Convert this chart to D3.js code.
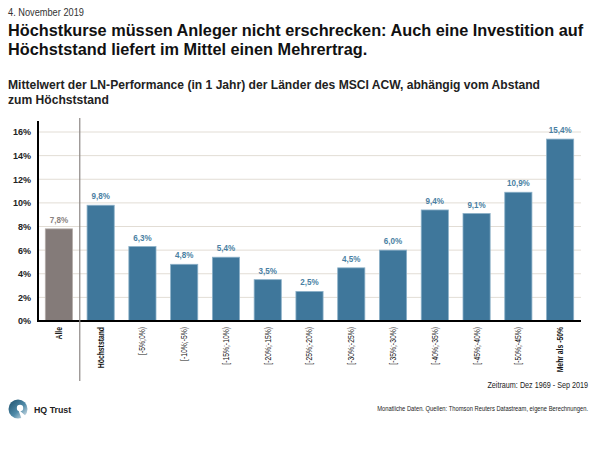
<!DOCTYPE html>
<html><head><meta charset="utf-8">
<script src="https://cdn.jsdelivr.net/npm/d3@7"></script>
<style>
body{margin:0;background:#fff;}
svg{display:block;font-family:"Liberation Sans",Arial,sans-serif;}
</style></head>
<body>
<svg id="c" width="600" height="450"></svg>
<script>
const categories = ["Alle","Höchststand","[-5%;0%)","[-10%;-5%)","[-15%;-10%)","[-20%;-15%)","[-25%;-20%)","[-30%;-25%)","[-35%;-30%)","[-40%;-35%)","[-45%;-40%)","[-50%;-45%)","Mehr als -50%"];
const values = [7.8, 9.8, 6.3, 4.8, 5.4, 3.5, 2.5, 4.5, 6.0, 9.4, 9.1, 10.9, 15.4];
const yTicks = [0,2,4,6,8,10,12,14,16];
const dateText = "4. November 2019";
const titleLines = ["Höchstkurse müssen Anleger nicht erschrecken: Auch eine Investition auf","Höchststand liefert im Mittel einen Mehrertrag."];
const subtitleLines = ["Mittelwert der LN-Performance (in 1 Jahr) der Länder des MSCI ACW, abhängig vom Abstand","zum Höchststand"];
const periodNote = "Zeitraum: Dez 1969 - Sep 2019";
const sourceNote = "Monatliche Daten. Quellen: Thomson Reuters Datastream, eigene Berechnungen.";

(function(){
const svg = d3.select("#c");
const pL = 38, pR = 581, pT = 121, pB = 321;

svg.append("text").attr("transform","translate(8,16) scale(0.88,1)").attr("font-size",10.5).attr("fill","#333").text(dateText);
svg.selectAll(".title").data(titleLines).enter().append("text")
  .attr("x",8).attr("y",(d,i)=>36+i*19).attr("font-size",16.3).attr("font-weight","bold").attr("fill","#111").text(d=>d);
svg.selectAll(".sub").data(subtitleLines).enter().append("text")
  .attr("x",8).attr("y",(d,i)=>89+i*15).attr("font-size",12.1).attr("font-weight","bold").attr("fill","#222").text(d=>d);

const x = d3.scaleBand().domain(categories).range([pL, pR]).paddingInner(0.35).paddingOuter(0.175);
const y = d3.scaleLinear().domain([0,16]).range([pB, pB - 189]);

svg.append("g").selectAll("line").data(yTicks.filter(t=>t>0)).enter().append("line")
  .attr("x1",pL).attr("x2",pR).attr("y1",d=>y(d)).attr("y2",d=>y(d))
  .attr("stroke","#e2ddd5").attr("stroke-width",1);

const yAxis = d3.axisLeft(y).tickValues(yTicks).tickFormat(d=>d+"%").tickSize(0).tickPadding(7);
const gy = svg.append("g").attr("transform",`translate(${pL},0)`).call(yAxis);
gy.select(".domain").remove();
gy.selectAll(".tick text").attr("font-size",9).attr("font-weight","bold").attr("fill","#222")
  .attr("font-family","'Liberation Sans',Arial,sans-serif");
svg.append("line").attr("x1",pL).attr("x2",pL).attr("y1",pT).attr("y2",pB+1).attr("stroke","#000").attr("stroke-width",2);

svg.append("g").selectAll("rect").data(values).enter().append("rect")
  .attr("x",(d,i)=>x(categories[i])).attr("width",x.bandwidth())
  .attr("y",d=>y(d)).attr("height",d=>y(0)-y(d))
  .attr("fill",(d,i)=>i===0?"#847b79":"#3f779b")
  .attr("stroke",(d,i)=>i===0?"#b3aca9":"#8bb0c8").attr("stroke-width",0.8);

svg.append("g").selectAll("text").data(values).enter().append("text")
  .attr("transform",(d,i)=>`translate(${x(categories[i])+x.bandwidth()/2},${y(d)-6}) scale(0.85,1)`)
  .attr("text-anchor","middle").attr("font-size",9.5).attr("font-weight","bold")
  .attr("fill",(d,i)=>i===0?"#8a8280":"#4a7fa3")
  .text(d=>d.toFixed(1).replace(".",",")+"%");

const xAxis = d3.axisBottom(x).tickSize(0).tickPadding(0);
const gx = svg.append("g").attr("transform",`translate(0,${pB})`).call(xAxis);
gx.select(".domain").remove();
gx.selectAll(".tick text")
  .attr("transform","translate(0,6) rotate(-90) scale(0.8,1)")
  .attr("x",0).attr("y",0).attr("dy","0.35em")
  .attr("text-anchor","end").attr("font-size",8.5)
  .attr("font-family","'Liberation Sans',Arial,sans-serif")
  .attr("font-weight",(d,i)=>(i<2||i===12)?"bold":"normal")
  .attr("fill","#111");
svg.append("line").attr("x1",pL-1).attr("x2",pR).attr("y1",pB).attr("y2",pB).attr("stroke","#000").attr("stroke-width",2);

const sepX = (x(categories[0])+x.bandwidth()+x(categories[1]))/2;
svg.append("line").attr("x1",sepX).attr("x2",sepX).attr("y1",118).attr("y2",381).attr("stroke","#8d8785").attr("stroke-width",1.2);

svg.append("text").attr("transform","translate(588,388) scale(0.76,1)").attr("text-anchor","end").attr("font-size",9.5)
  .attr("fill","#222").text(periodNote);
svg.append("text").attr("transform","translate(588,411) scale(0.83,1)").attr("text-anchor","end").attr("font-size",7)
  .attr("fill","#222").text(sourceNote);

const defs = svg.append("defs");
const lg = defs.append("linearGradient").attr("id","lg").attr("x1","0").attr("y1","0").attr("x2","1").attr("y2","1");
lg.append("stop").attr("offset","0").attr("stop-color","#1d4f6b");
lg.append("stop").attr("offset","0.55").attr("stop-color","#4f8aa8");
lg.append("stop").attr("offset","1").attr("stop-color","#e8eef2");
svg.append("circle").attr("cx",18).attr("cy",409).attr("r",9.5).attr("fill","url(#lg)");
svg.append("path").attr("d","M18,409 L28,418 L22,420 Z").attr("fill","#fff");
svg.append("circle").attr("cx",20).attr("cy",408).attr("r",3.2).attr("fill","#fff");
svg.append("text").attr("x",34).attr("y",413).attr("font-size",8.8).attr("font-weight","bold").attr("fill","#222").text("HQ Trust");
})();
</script>
</body></html>
